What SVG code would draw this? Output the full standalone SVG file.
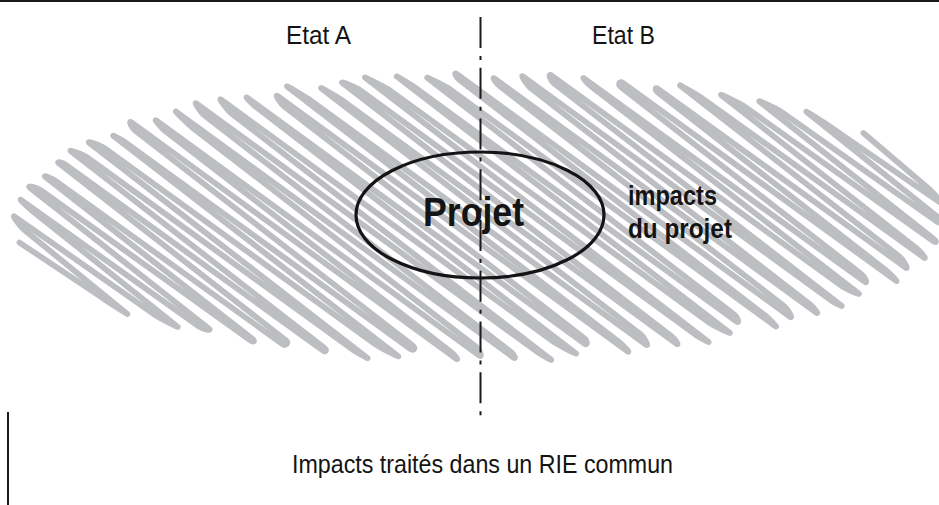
<svg xmlns="http://www.w3.org/2000/svg" width="939" height="505" viewBox="0 0 939 505">
<style>
.txt{font-family:"Liberation Sans",Arial,sans-serif;fill:#141414}
.bold{font-weight:bold}
.scr{fill:none;stroke:#bcbec2;stroke-width:5.8;stroke-linecap:round;stroke-linejoin:round}
.rule{stroke:#1a1a1a;fill:none}
</style>
<rect width="939" height="505" fill="#ffffff"/>
<g id="scribble" transform="translate(480 217) scale(465 145) rotate(-22.6)">
<path class="scr" vector-effect="non-scaling-stroke" d="M-0.982,-0.218 L-0.964,0.207 C-0.964,0.227 -0.957,0.344 -0.957,0.324 L-0.939,-0.294 C-0.939,-0.314 -0.923,-0.407 -0.923,-0.387 L-0.905,0.351 C-0.905,0.371 -0.891,0.467 -0.891,0.447 L-0.873,-0.405 C-0.873,-0.425 -0.866,-0.507 -0.866,-0.487 L-0.848,0.467 C-0.848,0.487 -0.834,0.506 -0.834,0.486 L-0.816,-0.559 C-0.816,-0.579 -0.801,-0.554 -0.801,-0.534 L-0.783,0.594 C-0.783,0.614 -0.775,0.606 -0.775,0.586 L-0.757,-0.612 C-0.757,-0.632 -0.747,-0.603 -0.747,-0.583 L-0.729,0.644 C-0.729,0.664 -0.712,0.644 -0.712,0.624 L-0.694,-0.688 C-0.694,-0.708 -0.684,-0.691 -0.684,-0.671 L-0.666,0.716 C-0.666,0.736 -0.656,0.723 -0.656,0.703 L-0.638,-0.757 C-0.638,-0.777 -0.622,-0.722 -0.622,-0.702 L-0.604,0.733 C-0.604,0.753 -0.597,0.823 -0.597,0.803 L-0.579,-0.795 C-0.579,-0.815 -0.563,-0.769 -0.563,-0.749 L-0.545,0.724 C-0.545,0.744 -0.531,0.837 -0.531,0.817 L-0.513,-0.817 C-0.513,-0.837 -0.506,-0.776 -0.506,-0.756 L-0.488,0.782 C-0.488,0.802 -0.474,0.781 -0.474,0.761 L-0.456,-0.832 C-0.456,-0.852 -0.441,-0.911 -0.441,-0.891 L-0.423,0.882 C-0.423,0.902 -0.415,0.852 -0.415,0.832 L-0.397,-0.805 C-0.397,-0.825 -0.387,-0.901 -0.387,-0.881 L-0.369,0.881 C-0.369,0.901 -0.352,0.846 -0.352,0.826 L-0.334,-0.807 C-0.334,-0.827 -0.324,-0.941 -0.324,-0.921 L-0.306,0.921 C-0.306,0.941 -0.296,0.902 -0.296,0.882 L-0.278,-0.872 C-0.278,-0.892 -0.262,-0.977 -0.262,-0.957 L-0.244,0.899 C-0.244,0.919 -0.237,0.985 -0.237,0.965 L-0.219,-0.867 C-0.219,-0.887 -0.203,-0.981 -0.203,-0.961 L-0.185,0.853 C-0.185,0.873 -0.171,0.967 -0.171,0.947 L-0.153,-0.888 C-0.153,-0.908 -0.146,-0.971 -0.146,-0.951 L-0.128,0.892 C-0.128,0.912 -0.114,0.875 -0.114,0.855 L-0.096,-0.865 C-0.096,-0.885 -0.081,-0.957 -0.081,-0.937 L-0.063,0.977 C-0.063,0.997 -0.055,0.929 -0.055,0.909 L-0.037,-0.989 C-0.037,-1.009 -0.027,-0.900 -0.027,-0.880 L-0.009,0.950 C-0.009,0.970 0.008,0.900 0.008,0.880 L0.026,-0.950 C0.026,-0.970 0.036,-0.879 0.036,-0.859 L0.054,0.969 C0.054,0.989 0.064,0.937 0.064,0.917 L0.082,-0.967 C0.082,-0.987 0.098,-0.925 0.098,-0.905 L0.116,0.925 C0.116,0.945 0.123,1.001 0.123,0.981 L0.141,-0.981 C0.141,-1.001 0.157,-0.898 0.157,-0.878 L0.175,0.858 C0.175,0.878 0.189,0.962 0.189,0.942 L0.207,-0.961 C0.207,-0.981 0.214,-0.897 0.214,-0.877 L0.232,0.877 C0.232,0.897 0.246,0.852 0.246,0.832 L0.264,-0.928 C0.264,-0.948 0.279,-0.854 0.279,-0.834 L0.297,0.939 C0.297,0.959 0.305,0.884 0.305,0.864 L0.323,-0.892 C0.323,-0.912 0.333,-0.949 0.333,-0.929 L0.351,0.892 C0.351,0.912 0.368,0.836 0.368,0.816 L0.386,-0.816 C0.386,-0.836 0.396,-0.889 0.396,-0.869 L0.414,0.887 C0.414,0.907 0.424,0.848 0.424,0.828 L0.442,-0.774 C0.442,-0.794 0.458,-0.879 0.458,-0.859 L0.476,0.823 C0.476,0.843 0.483,0.880 0.483,0.860 L0.501,-0.791 C0.501,-0.811 0.517,-0.863 0.517,-0.843 L0.535,0.740 C0.535,0.760 0.549,0.819 0.549,0.799 L0.567,-0.740 C0.567,-0.760 0.574,-0.815 0.574,-0.795 L0.592,0.730 C0.592,0.750 0.606,0.698 0.606,0.678 L0.624,-0.710 C0.624,-0.730 0.639,-0.754 0.639,-0.734 L0.657,0.749 C0.657,0.769 0.665,0.691 0.665,0.671 L0.683,-0.642 C0.683,-0.662 0.693,-0.687 0.693,-0.667 L0.711,0.674 C0.711,0.694 0.728,0.617 0.728,0.597 L0.746,-0.671 C0.746,-0.691 0.756,-0.587 0.756,-0.567 L0.774,0.625 C0.774,0.645 0.784,0.578 0.784,0.558 L0.802,-0.576 C0.802,-0.596 0.818,-0.506 0.818,-0.486 L0.836,0.526 C0.836,0.546 0.843,0.533 0.843,0.513 L0.861,-0.503 C0.861,-0.523 0.877,-0.444 0.877,-0.424 L0.895,0.405 C0.895,0.425 0.909,0.407 0.909,0.387 L0.927,-0.399 C0.927,-0.419 0.934,-0.311 0.934,-0.291 L0.952,0.294 C0.952,0.314 0.966,0.211 0.966,0.191 L0.984,-0.218"/>
</g>
<g id="frame">
<line class="rule" x1="0" y1="1" x2="939" y2="1" stroke-width="2"/>
<line class="rule" x1="8" y1="412" x2="8" y2="505" stroke-width="2"/>
</g>
<g id="connectors">
<line class="rule" x1="480.5" y1="17" x2="480.5" y2="416" stroke-width="2" stroke-dasharray="31 8 4 7.75"/>
</g>
<g id="etat-a"><text class="txt" x="286" y="44" font-size="25" textLength="65" lengthAdjust="spacingAndGlyphs">Etat A</text></g>
<g id="etat-b"><text class="txt" x="592" y="44" font-size="25" textLength="63" lengthAdjust="spacingAndGlyphs">Etat B</text></g>
<g id="projet">
<ellipse cx="480" cy="215" rx="124" ry="63" fill="none" stroke="#141414" stroke-width="3.2"/>
<text class="txt bold" x="423" y="226" font-size="40" textLength="101" lengthAdjust="spacingAndGlyphs">Projet</text>
</g>
<g id="impacts">
<text class="txt bold" x="628" y="205" font-size="27" textLength="89" lengthAdjust="spacingAndGlyphs">impacts</text>
<text class="txt bold" x="628" y="238" font-size="27" textLength="104" lengthAdjust="spacingAndGlyphs">du projet</text>
</g>
<g id="caption"><text class="txt" x="292" y="473" font-size="25" textLength="381" lengthAdjust="spacingAndGlyphs">Impacts traités dans un RIE commun</text></g>
</svg>
